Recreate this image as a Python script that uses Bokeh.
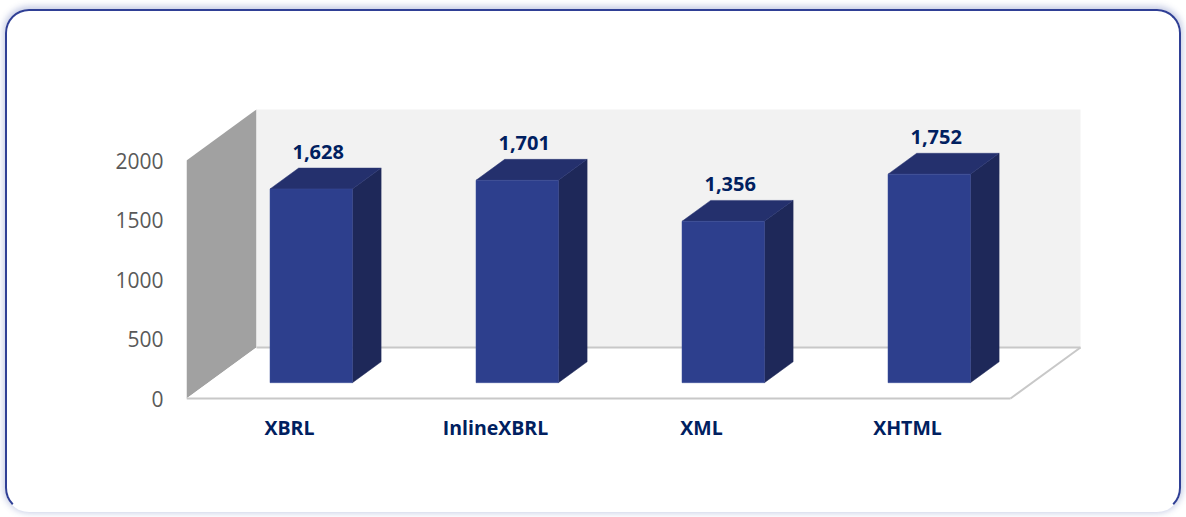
from bokeh.plotting import figure
from bokeh.models import Range1d, FixedTicker, ColumnDataSource
from bokeh.core.properties import value
from bokeh.embed import file_html
from bokeh.resources import INLINE

categories = ["XBRL", "InlineXBRL", "XML", "XHTML"]
counts = [1628, 1701, 1356, 1752]
count_labels = ["1,628", "1,701", "1,356", "1,752"]
y_ticks = [0, 500, 1000, 1500, 2000]

FONT = "Open Sans"
NAVY = "#002060"

# pixel geometry (px per data unit)
PX_X = 206.0
PX_Y = 0.119
DXU = 70.0 / PX_X      # depth of 3D box in x units
DYU = 51.0 / PX_Y      # depth of 3D box in y units
D0 = 0.31              # depth position of bar front face
DB = 0.41              # bar depth fraction
BW = 0.4               # bar width

W, H = 1176, 503
ML, MR, MT, MB = 179, 73, 9, 114
FW, FH = W - ML - MR, H - MT - MB

x_end = FW / PX_X
y_start = -2 / PX_Y
y_end = y_start + FH / PX_Y

p = figure(width=W, height=H, output_backend="svg", toolbar_location=None,
           x_range=Range1d(0, x_end), y_range=Range1d(y_start, y_end),
           min_border_left=ML, min_border_right=MR, min_border_top=MT, min_border_bottom=MB)
p.outline_line_color = None
p.background_fill_color = "white"
p.border_fill_color = None
p.border_fill_alpha = 0
p.xgrid.visible = False
p.ygrid.visible = False
p.margin = (9, 0, 0, 5)
p.styles = {
    "border": "2px solid #2f3f95",
    "border-bottom-color": "transparent",
    "border-radius": "24px",
    "box-shadow": "0 -1px 6px 2px rgba(70, 90, 170, 0.30)",
}

ymax = y_ticks[-1]
ncat = len(categories)

# left wall
p.patch([0, 0, DXU, DXU], [0, ymax, ymax + DYU, DYU], fill_color="#a1a1a1", line_color=None)
# back wall
p.quad(left=[DXU], right=[ncat + DXU], bottom=[DYU], top=[ymax + DYU],
       fill_color="#f2f2f2", line_color=None)
# floor
p.patch([0, ncat, ncat + DXU, DXU], [0, 0, DYU, DYU], fill_color="white", line_color=None)
p.multi_line([[0, ncat], [ncat, ncat + DXU], [DXU, ncat + DXU]],
             [[0, 0], [0, DYU], [DYU, DYU]], line_color="#c8c8c8", line_width=2)

# bars
centers = [i + 0.5 for i in range(ncat)]
lefts = [c - BW / 2 + D0 * DXU for c in centers]
rights = [l + BW for l in lefts]
bottoms = [D0 * DYU] * ncat
tops = [v + D0 * DYU for v in counts]
ddx, ddy = DB * DXU, DB * DYU

side_xs = [[r, r + ddx, r + ddx, r] for r in rights]
side_ys = [[b, b + ddy, t + ddy, t] for b, t in zip(bottoms, tops)]
top_xs = [[l, r, r + ddx, l + ddx] for l, r in zip(lefts, rights)]
top_ys = [[t, t, t + ddy, t + ddy] for t in tops]

p.patches(side_xs, side_ys, fill_color="#1e2859", line_color="#1e2859", line_width=0.5)
p.patches(top_xs, top_ys, fill_color="#24306d", line_color="#2a3675", line_width=0.5)
p.quad(left=lefts, right=rights, bottom=bottoms, top=tops,
       fill_color="#2d3f8d", line_color="#3a4c98", line_width=0.5)

# data labels
lab_src = ColumnDataSource(dict(
    x=[c + D0 * DXU for c in centers],
    y=[v + (D0 + DB) * DYU for v in counts],
    t=count_labels))
p.text(x="x", y="y", text="t", source=lab_src, x_offset=7, y_offset=-16,
       text_align="center", text_baseline="alphabetic",
       text_font=value(FONT), text_font_style="bold", text_font_size="20px",
       text_color=NAVY)

# axes
p.yaxis.ticker = FixedTicker(ticks=y_ticks)
p.yaxis.axis_line_color = None
p.yaxis.major_tick_line_color = None
p.yaxis.minor_tick_line_color = None
p.yaxis.major_label_text_font = FONT
p.yaxis.major_label_text_font_size = "21px"
p.yaxis.major_label_text_color = "#595959"
p.yaxis.major_label_standoff = 17

p.xaxis.ticker = FixedTicker(ticks=centers)
p.xaxis.major_label_overrides = {c: name for c, name in zip(centers, categories)}
p.xaxis.axis_line_color = None
p.xaxis.major_tick_line_color = None
p.xaxis.minor_tick_line_color = None
p.xaxis.major_label_text_font = FONT
p.xaxis.major_label_text_font_style = "bold"
p.xaxis.major_label_text_font_size = "19.5px"
p.xaxis.major_label_text_color = NAVY
p.xaxis.major_label_standoff = 7

open("out.html", "w").write(file_html(p, INLINE))
